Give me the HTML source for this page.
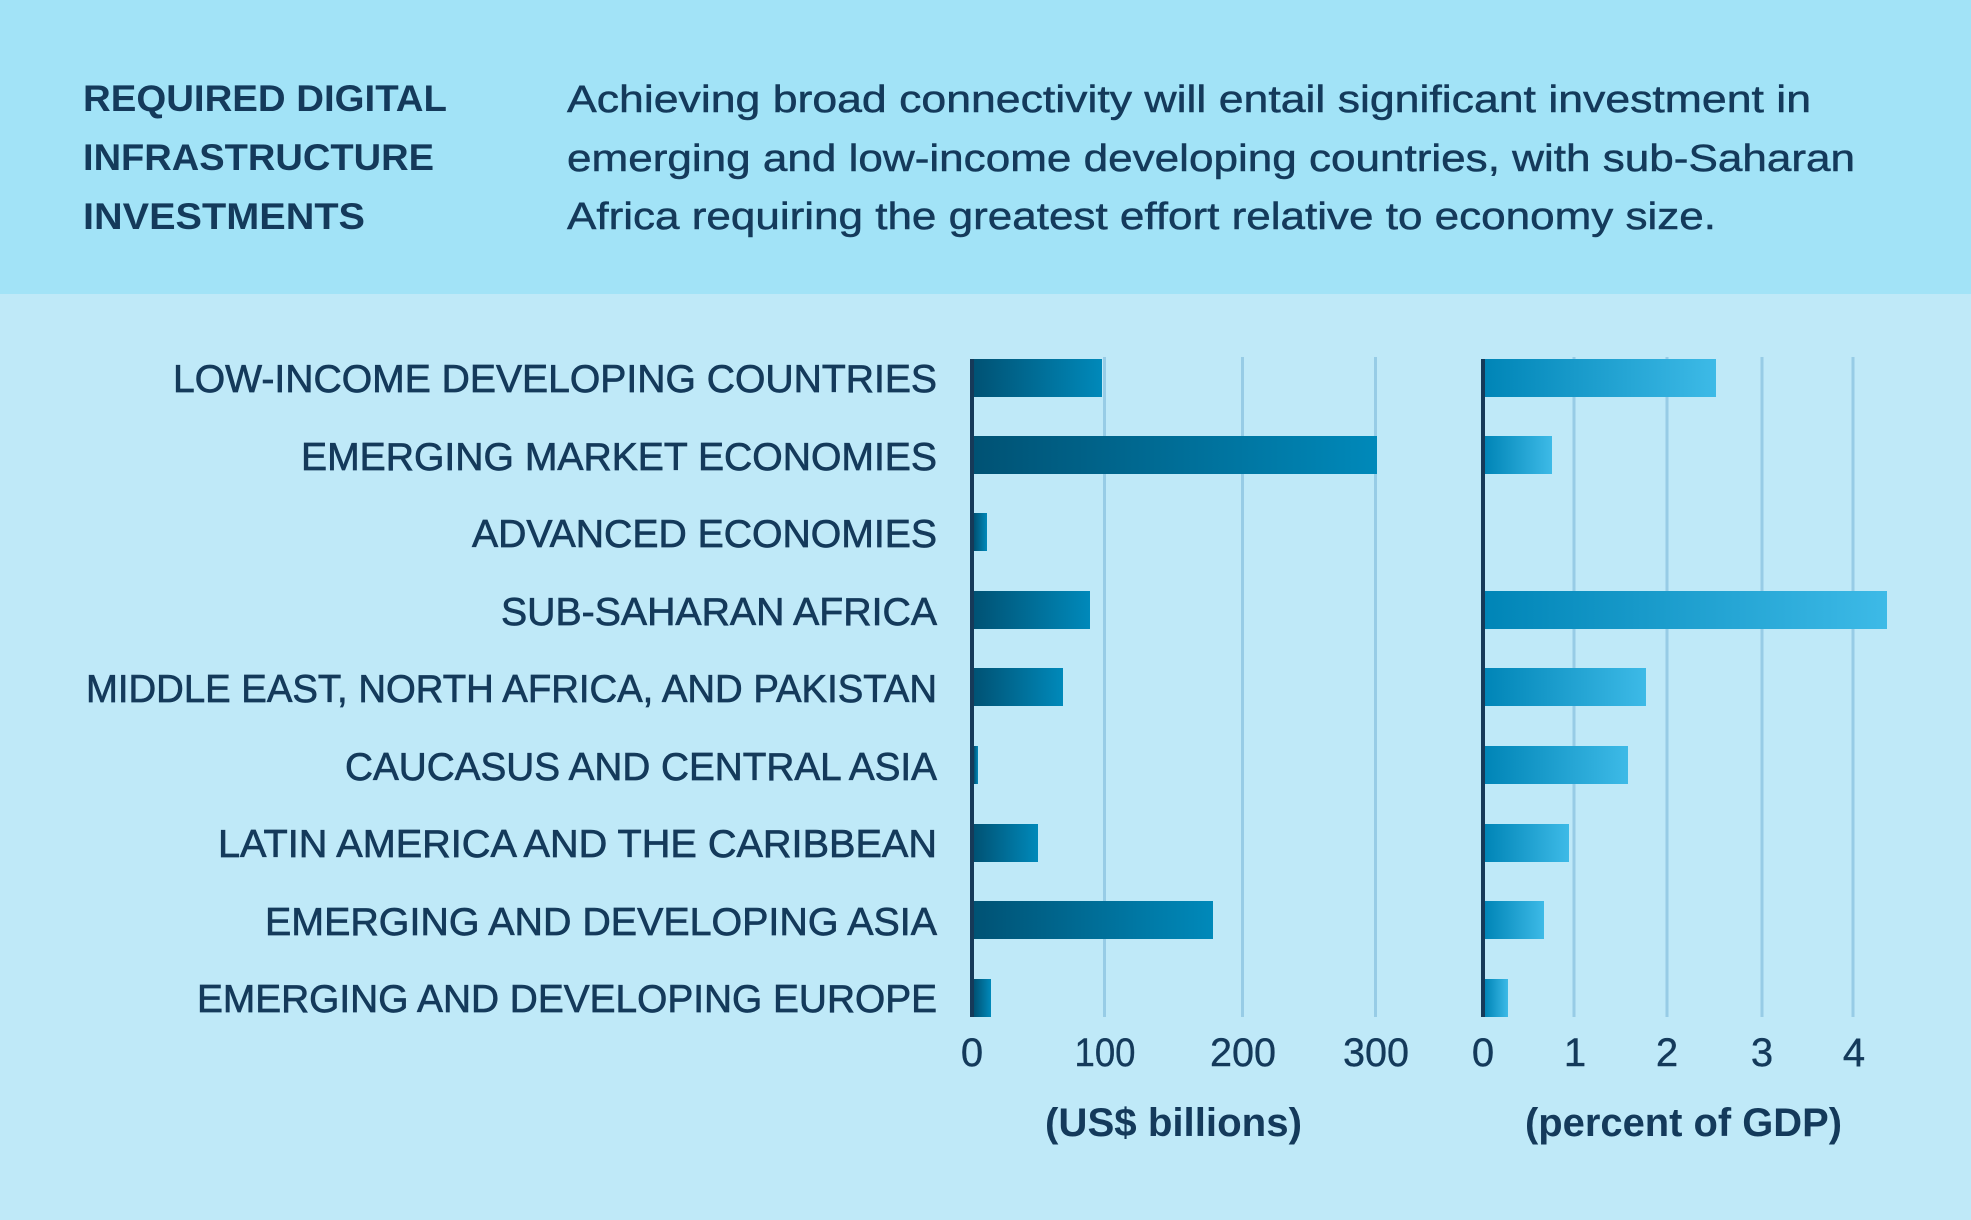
<!DOCTYPE html>
<html>
<head>
<meta charset="utf-8">
<style>
html,body{margin:0;padding:0;}
body{width:1971px;height:1220px;overflow:hidden;background:#bfe9f8;}
svg{display:block;}
text{font-family:"Liberation Sans",sans-serif;fill:#143a5b;}
</style>
</head>
<body>
<svg width="1971" height="1220" viewBox="0 0 1971 1220" xmlns="http://www.w3.org/2000/svg">
<defs>
<linearGradient id="gl" x1="0" y1="0" x2="1" y2="0">
<stop offset="0" stop-color="#005274"/>
<stop offset="1" stop-color="#0089ba"/>
</linearGradient>
<linearGradient id="gr" x1="0" y1="0" x2="1" y2="0">
<stop offset="0" stop-color="#0085b7"/>
<stop offset="1" stop-color="#3dbae7"/>
</linearGradient>
</defs>
<rect x="0" y="0" width="1971" height="294" fill="#a2e3f7"/>
<rect x="0" y="294" width="1971" height="926" fill="#bfe9f8"/>

<!-- header -->
<g font-weight="bold" font-size="37">
<text x="83" y="111" textLength="364" lengthAdjust="spacingAndGlyphs">REQUIRED DIGITAL</text>
<text x="83" y="170" textLength="351" lengthAdjust="spacingAndGlyphs">INFRASTRUCTURE</text>
<text x="83" y="229" textLength="282" lengthAdjust="spacingAndGlyphs">INVESTMENTS</text>
</g>
<g font-size="38" stroke="#143a5b" stroke-width="0.5">
<text x="567" y="112" textLength="1244" lengthAdjust="spacingAndGlyphs">Achieving broad connectivity will entail significant investment in</text>
<text x="567" y="171" textLength="1288" lengthAdjust="spacingAndGlyphs">emerging and low-income developing countries, with sub-Saharan</text>
<text x="567" y="229" textLength="1149" lengthAdjust="spacingAndGlyphs">Africa requiring the greatest effort relative to economy size.</text>
</g>

<!-- gridlines -->
<g stroke="#97cce6" stroke-width="3">
<line x1="1104.5" y1="357" x2="1104.5" y2="1017"/>
<line x1="1242.5" y1="357" x2="1242.5" y2="1017"/>
<line x1="1375.5" y1="357" x2="1375.5" y2="1017"/>
<line x1="1574" y1="357" x2="1574" y2="1017"/>
<line x1="1667" y1="357" x2="1667" y2="1017"/>
<line x1="1762" y1="357" x2="1762" y2="1017"/>
<line x1="1853" y1="357" x2="1853" y2="1017"/>
</g>

<!-- left bars -->
<g fill="url(#gl)">
<rect x="974" y="359" width="128" height="38"/>
<rect x="974" y="436" width="403" height="38"/>
<rect x="974" y="513" width="13" height="38"/>
<rect x="974" y="591" width="116" height="38"/>
<rect x="974" y="668" width="89" height="38"/>
<rect x="974" y="746" width="4" height="38"/>
<rect x="974" y="824" width="64" height="38"/>
<rect x="974" y="901" width="239" height="38"/>
<rect x="974" y="979" width="17" height="38"/>
</g>
<!-- right bars -->
<g fill="url(#gr)">
<rect x="1485" y="359" width="231" height="38"/>
<rect x="1485" y="436" width="67" height="38"/>
<rect x="1485" y="591" width="402" height="38"/>
<rect x="1485" y="668" width="161" height="38"/>
<rect x="1485" y="746" width="143" height="38"/>
<rect x="1485" y="824" width="84" height="38"/>
<rect x="1485" y="901" width="59" height="38"/>
<rect x="1485" y="979" width="23" height="38"/>
</g>

<!-- axes -->
<rect x="970" y="359" width="4" height="658" fill="#163a59"/>
<rect x="1481" y="359" width="4" height="658" fill="#163a59"/>

<!-- category labels -->
<g font-size="39" text-anchor="end" stroke="#143a5b" stroke-width="0.7">
<text x="937" y="392" textLength="764" lengthAdjust="spacingAndGlyphs">LOW-INCOME DEVELOPING COUNTRIES</text>
<text x="937" y="470" textLength="636" lengthAdjust="spacingAndGlyphs">EMERGING MARKET ECONOMIES</text>
<text x="937" y="547" textLength="465" lengthAdjust="spacingAndGlyphs">ADVANCED ECONOMIES</text>
<text x="937" y="625" textLength="436" lengthAdjust="spacingAndGlyphs">SUB-SAHARAN AFRICA</text>
<text x="937" y="702" textLength="851" lengthAdjust="spacingAndGlyphs">MIDDLE EAST, NORTH AFRICA, AND PAKISTAN</text>
<text x="937" y="780" textLength="592" lengthAdjust="spacingAndGlyphs">CAUCASUS AND CENTRAL ASIA</text>
<text x="937" y="857" textLength="719" lengthAdjust="spacingAndGlyphs">LATIN AMERICA AND THE CARIBBEAN</text>
<text x="937" y="935" textLength="672" lengthAdjust="spacingAndGlyphs">EMERGING AND DEVELOPING ASIA</text>
<text x="937" y="1012" textLength="740" lengthAdjust="spacingAndGlyphs">EMERGING AND DEVELOPING EUROPE</text>
</g>

<!-- tick labels -->
<g font-size="40" text-anchor="middle" stroke="#143a5b" stroke-width="0.4">
<text x="972" y="1066">0</text>
<text x="1105" y="1066" textLength="61" lengthAdjust="spacingAndGlyphs">100</text>
<text x="1243" y="1066" textLength="66" lengthAdjust="spacingAndGlyphs">200</text>
<text x="1376" y="1066" textLength="66" lengthAdjust="spacingAndGlyphs">300</text>
<text x="1483" y="1066">0</text>
<text x="1575" y="1066">1</text>
<text x="1667" y="1066">2</text>
<text x="1762" y="1066">3</text>
<text x="1854" y="1066">4</text>
</g>

<!-- axis titles -->
<g font-size="40" font-weight="bold">
<text x="1045" y="1136" textLength="257" lengthAdjust="spacingAndGlyphs">(US$ billions)</text>
<text x="1525" y="1136" textLength="317" lengthAdjust="spacingAndGlyphs">(percent of GDP)</text>
</g>
</svg>
</body>
</html>
